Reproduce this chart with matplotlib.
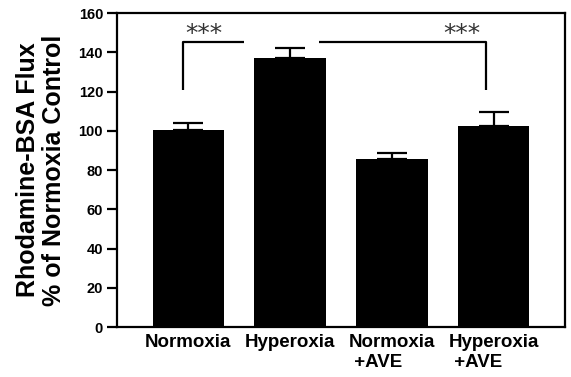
import matplotlib
matplotlib.use('Agg')
from matplotlib import pyplot as plt
import numpy as np

# data
groups = ['Normoxia', 'Hyperoxia', 'Normoxia\n +AVE', 'Hyperoxia\n +AVE']
flux = [100.4, 137.2, 85.8, 102.4]
sem = [3.7, 5.1, 2.7, 7.3]
yticks = [0, 20, 40, 60, 80, 100, 120, 140, 160]

plt.rcParams['font.family'] = ['Liberation Sans', 'DejaVu Sans']
plt.rcParams['font.weight'] = 'bold'

fig = plt.figure(figsize=(5.71, 3.77), dpi=100)
ax = fig.add_axes([0.2049, 0.1326, 0.7846, 0.8329])

x = np.arange(len(groups))
ax.bar(x, flux, width=0.7, color='black', zorder=2)
ax.errorbar(x, flux, yerr=[np.zeros(len(sem)), sem], fmt='none',
            ecolor='black', elinewidth=1.6, capsize=10.5, capthick=1.6, zorder=1)

# left bracket: Normoxia vs Hyperoxia
lw = 1.6
ax.plot([x[0] - 0.05, x[0] - 0.05, x[1] - 0.45], [120.8, 145, 145],
        color='black', lw=lw, solid_capstyle='butt')
ax.text(x[0] + 0.15, 149.5, '***', ha='center', va='center', fontsize=18,
        fontweight='normal', family='DejaVu Sans', color='#333333')
# right bracket: Hyperoxia vs Hyperoxia+AVE
ax.plot([x[1] + 0.28, x[3] - 0.08, x[3] - 0.08], [145.4, 145.4, 120.8],
        color='black', lw=lw, solid_capstyle='butt')
ax.text(x[3] - 0.31, 149.5, '***', ha='center', va='center', fontsize=18,
        fontweight='normal', family='DejaVu Sans', color='#333333')

ax.set_xlim(-0.7, 3.7)
ax.set_ylim(0, 160)
ax.set_yticks(yticks)
ax.set_yticklabels([str(t) for t in yticks], fontsize=10.5, fontweight='bold')
ax.set_xticks(x)
ax.set_xticklabels(groups, fontsize=13.5, fontweight='bold', multialignment='left')
ax.tick_params(axis='x', length=0, pad=5)
ax.tick_params(axis='y', length=7, width=1.6, pad=3, direction='out')

for s in ax.spines.values():
    s.set_linewidth(1.6)

ax.set_ylabel('Rhodamine-BSA Flux\n% of Normoxia Control', fontsize=18,
              fontweight='bold', labelpad=9, linespacing=1.1)

fig.savefig('out.png', dpi=100)
